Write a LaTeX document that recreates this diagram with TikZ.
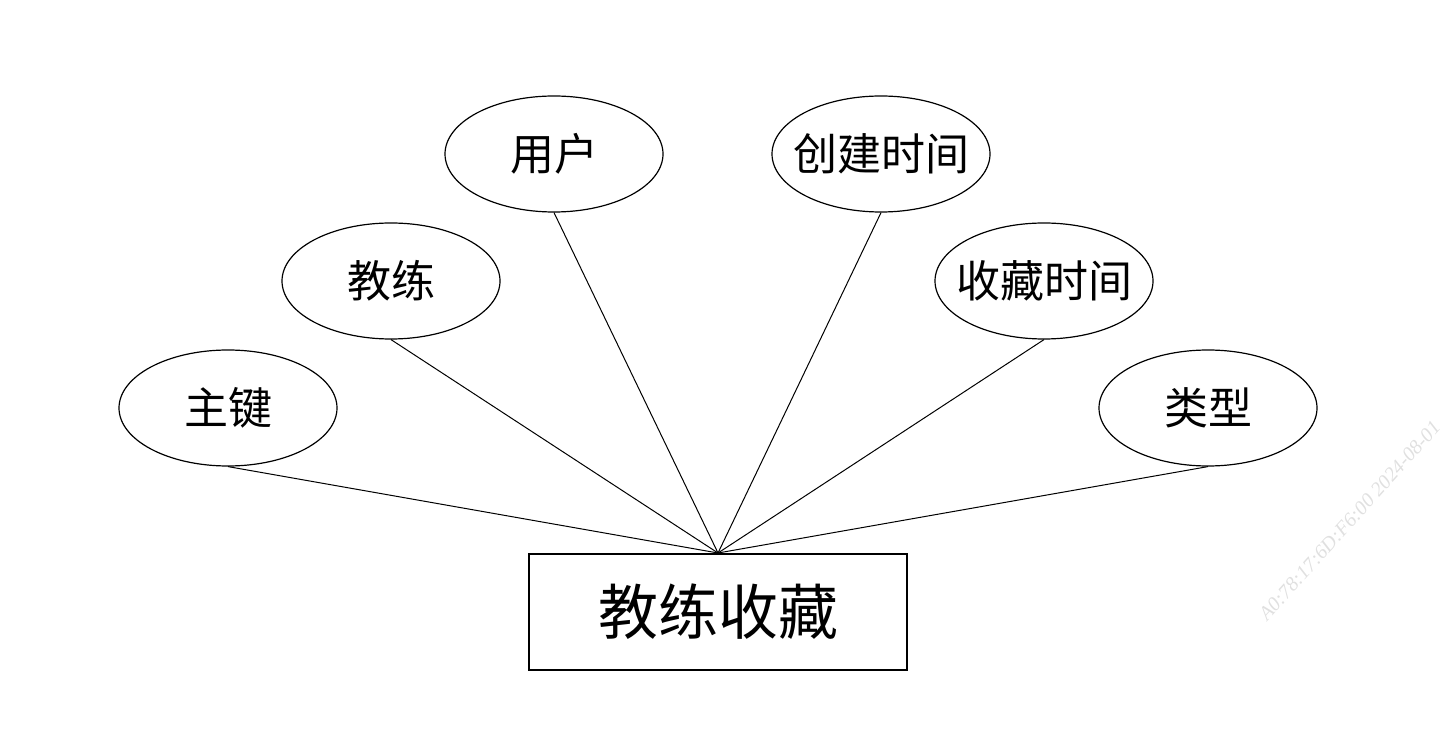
\documentclass[tikz,border=0pt]{standalone}
\usepackage{fontspec}
\newfontfamily\cjk{Noto Sans CJK SC}
\setmainfont{Liberation Serif}
\usetikzlibrary{shapes.geometric}
\begin{document}
\begin{tikzpicture}[x=0.5pt,y=-0.5pt,
  attr/.style={draw, ellipse, line width=0.6pt, minimum width=109pt, minimum height=58pt, inner xsep=-20pt, inner ysep=0pt, font=\cjk\fontsize{22}{22}\selectfont},
  entity/.style={draw, rectangle, line width=0.6pt, minimum width=189pt, minimum height=58pt, inner sep=0pt, font=\cjk\fontsize{30}{30}\selectfont},
  link/.style={line width=0.5pt},
  wm/.style={text=black!12, font=\itshape\fontsize{10}{10}\selectfont, rotate=48, anchor=south west}]
\useasboundingbox (0,0) rectangle (1440,748);
\clip (0,0) rectangle (1440,748);
\node[attr] (pk) at (228,408) {主键};
\node[attr] (coach) at (391,281) {教练};
\node[attr] (user) at (554,154) {用户};
\node[attr] (ctime) at (881,154) {创建时间};
\node[attr] (ftime) at (1044,281) {收藏时间};
\node[attr] (type) at (1208,408) {类型};
\node[entity] (fav) at (718,612) {教练收藏};
\coordinate (hub) at (718,553);
\foreach \n in {pk,coach,user,ctime,ftime,type}
  \draw[link] (\n.south) -- (hub);
\node[wm] (mark) at (1268,632) {A0:78:17:6D:F6:00 2024-08-01};
\end{tikzpicture}
\end{document}
